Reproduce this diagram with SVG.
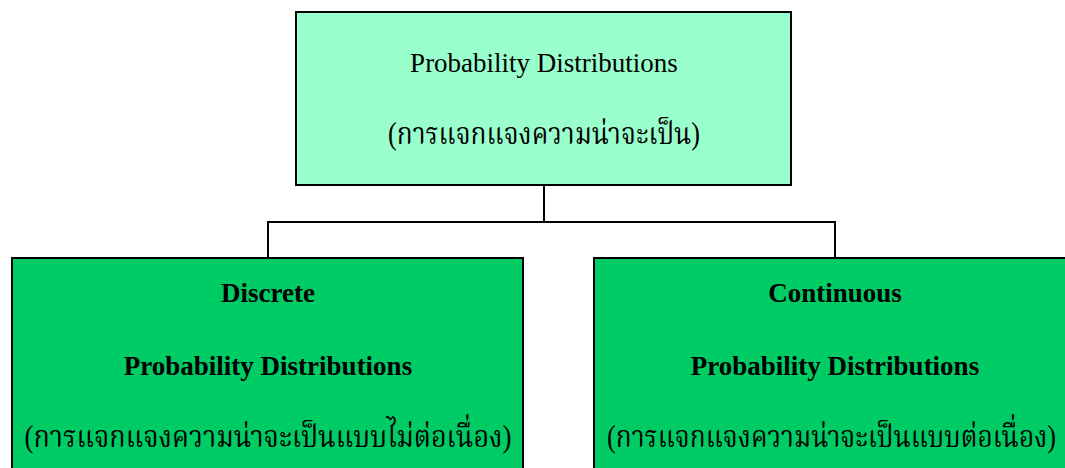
<svg xmlns="http://www.w3.org/2000/svg" width="1065" height="468" viewBox="0 0 1065 468">
  <style>
    .box { stroke: #000; stroke-width: 2; }
    .root { fill: #99FFCC; }
    .leaf { fill: #00CC66; }
    .en { font-family: "Liberation Serif", "Times New Roman", serif; font-size: 27px; fill: #000; text-anchor: middle; }
    .bold { font-weight: bold; }
    .th { font-family: "Liberation Serif", "Noto Serif Thai", "Noto Sans Thai", serif; font-size: 31px; fill: #000; text-anchor: middle; }
    .wire { fill: none; stroke: #000; stroke-width: 2; }
  </style>

  <!-- connectors -->
  <g id="connectors">
    <path class="wire" d="M544 185 V222 M268 258 V222 H835 V258"/>
  </g>

  <!-- root node -->
  <g id="node-root">
    <rect class="box root" x="296" y="12" width="495" height="173"/>
    <text class="en" x="544" y="72">Probability Distributions</text>
    <text class="th" x="544" y="144" textLength="312" lengthAdjust="spacingAndGlyphs">(การแจกแจงความน่าจะเป็น)</text>
  </g>

  <!-- discrete node -->
  <g id="node-discrete">
    <rect class="box leaf" x="12" y="258" width="511" height="220"/>
    <text class="en bold" x="268" y="302">Discrete</text>
    <text class="en bold" x="268" y="375">Probability Distributions</text>
    <text class="th" x="268" y="447" textLength="487" lengthAdjust="spacingAndGlyphs">(การแจกแจงความน่าจะเป็นแบบไม่ต่อเนื่อง)</text>
  </g>

  <!-- continuous node (last line is right-aligned so it stays inside the page) -->
  <g id="node-continuous">
    <rect class="box leaf" x="594" y="258" width="480" height="220"/>
    <text class="en bold" x="835" y="302">Continuous</text>
    <text class="en bold" x="835" y="375">Probability Distributions</text>
    <text class="th" x="1056" y="447" text-anchor="end" style="text-anchor:end" textLength="449" lengthAdjust="spacingAndGlyphs">(การแจกแจงความน่าจะเป็นแบบต่อเนื่อง)</text>
  </g>
</svg>
